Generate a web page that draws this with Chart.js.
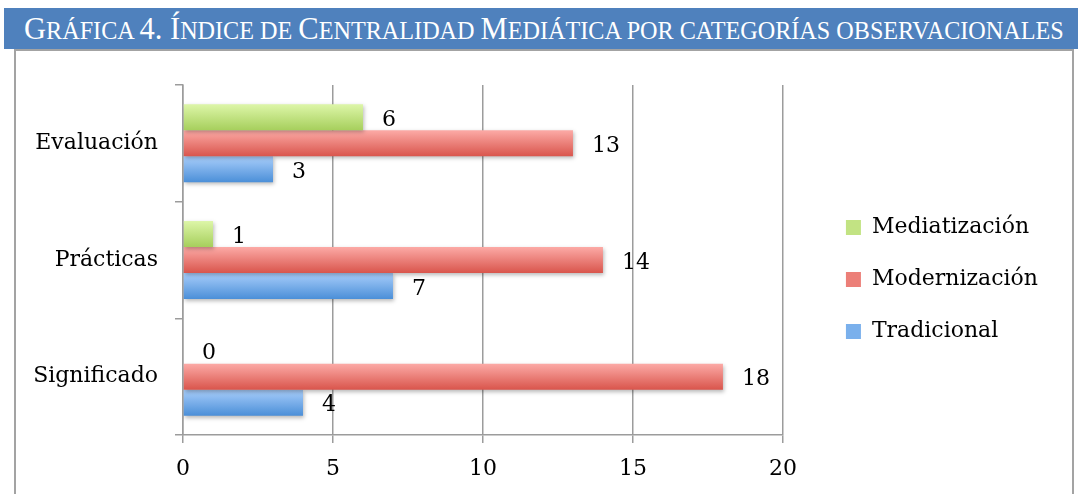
<!DOCTYPE html>
<html>
<head>
<meta charset="utf-8">
<script src="https://cdn.jsdelivr.net/npm/chart.js@4.4.0/dist/chart.umd.min.js"></script>
<style>
  html, body { margin: 0; padding: 0; background: #fff; }
  body { width: 1078px; height: 494px; position: relative; overflow: hidden; }
  #title {
    position: absolute; left: 4px; top: 8px; width: 1054px; height: 41px;
    padding-left: 20px; background: #4f81bd; color: #fff;
    font-family: 'Liberation Serif', serif; font-size: 24.2px; line-height: 43px; white-space: nowrap;
  }
  #title .cap { font-size: 30.5px; }
  #frame {
    position: absolute; left: 14px; top: 49px; width: 1056px; height: 480px;
    border: 2px solid #a3a3a3;
  }
  #wrap { position: absolute; left: 0; top: 50px; width: 1078px; height: 444px; }
</style>
</head>
<body>
<div id="title"><span class="cap">G</span>RÁFICA <span class="cap">4. Í</span>NDICE DE <span class="cap">C</span>ENTRALIDAD <span class="cap">M</span>EDIÁTICA POR CATEGORÍAS OBSERVACIONALES</div>
<div id="frame"></div>
<div id="wrap"><canvas id="indexChart"></canvas></div>

<script>
// data
const categories = ["Evaluación", "Prácticas", "Significado"];
const seriesNames = ["Mediatización", "Modernización", "Tradicional"];
const mediatizacion = [6, 1, 0];
const modernizacion = [13, 14, 18];
const tradicional = [3, 7, 4];
const xTicks = [0, 5, 10, 15, 20];

// bar fills: top, middle, bottom of the gradient
const fills = [
  ["#ddf6a8", "#c2e383", "#a6cf5c"],
  ["#fcaaa6", "#ec7f78", "#d9554c"],
  ["#a9cefb", "#7ab0ec", "#4b8fd8"]
];

const serif = "'DejaVu Serif', serif";

// gradient + soft shadow on the bars, value labels after them
const barDecor = {
  id: "barDecor",
  afterLayout(chart) {
    // push the legend away from the plot like the original
    chart.legend.left += 33;
    chart.legend.right += 33;
    chart.legend.top -= 10;
    chart.legend.bottom -= 10;
  },
  beforeDatasetsDraw(chart) {
    const ctx = chart.ctx;
    chart.data.datasets.forEach((ds, i) => {
      chart.getDatasetMeta(i).data.forEach(bar => {
        if (Object.isFrozen(bar.options)) return;
        const top = bar.y - bar.height / 2;
        const g = ctx.createLinearGradient(0, top, 0, top + bar.height);
        g.addColorStop(0, fills[i][0]);
        g.addColorStop(1, fills[i][2]);
        bar.options.backgroundColor = g;
      });
    });
    ctx.save();
    ctx.shadowColor = "rgba(0,0,0,0.28)";
    ctx.shadowBlur = 4;
    ctx.shadowOffsetX = 1;
    ctx.shadowOffsetY = 2;
  },
  afterDatasetsDraw(chart) {
    const ctx = chart.ctx;
    ctx.restore();
    ctx.save();
    ctx.font = "22px " + serif;
    ctx.fillStyle = "#000";
    ctx.textAlign = "left";
    ctx.textBaseline = "middle";
    chart.data.datasets.forEach((ds, i) => {
      chart.getDatasetMeta(i).data.forEach((bar, j) => {
        ctx.fillText(String(ds.data[j]), bar.x + 19, bar.y + 3);
      });
    });
    ctx.restore();
  }
};

const mkSet = (label, data, i) => ({
  label: label,
  data: data,
  backgroundColor: () => fills[i][1],
  borderWidth: 0,
  categoryPercentage: 0.668,
  barPercentage: 1
});

new Chart(document.getElementById("indexChart"), {
  type: "bar",
  data: {
    labels: categories,
    datasets: [
      mkSet(seriesNames[0], mediatizacion, 0),
      mkSet(seriesNames[1], modernizacion, 1),
      mkSet(seriesNames[2], tradicional, 2)
    ]
  },
  options: {
    indexAxis: "y",
    responsive: true,
    maintainAspectRatio: false,
    animation: false,
    layout: { padding: { top: 35, left: 0, right: 63, bottom: 0 } },
    plugins: {
      title: { display: false },
      tooltip: { enabled: false },
      legend: {
        position: "right",
        labels: {
          color: "#000",
          font: { family: serif, size: 22 },
          boxWidth: 15,
          boxHeight: 15,
          padding: 30
        }
      }
    },
    scales: {
      x: {
        min: 0,
        max: 20,
        afterBuildTicks: axis => { axis.ticks = xTicks.map(v => ({ value: v })); },
        afterFit: axis => { axis.height = 59; },
        ticks: { color: "#000", font: { family: serif, size: 22 }, padding: 13 },
        grid: { color: "#9c9c9c", lineWidth: 1.5, tickLength: 8 },
        border: { color: "#9c9c9c", width: 1.5 }
      },
      y: {
        afterFit: axis => { axis.width = 183; },
        ticks: { color: "#000", font: { family: serif, size: 22 }, padding: 17 },
        grid: { drawOnChartArea: false, color: "#9c9c9c", lineWidth: 1.5, tickLength: 8 },
        border: { color: "#9c9c9c", width: 1.5 }
      }
    }
  },
  plugins: [barDecor]
});
</script>
</body>
</html>
